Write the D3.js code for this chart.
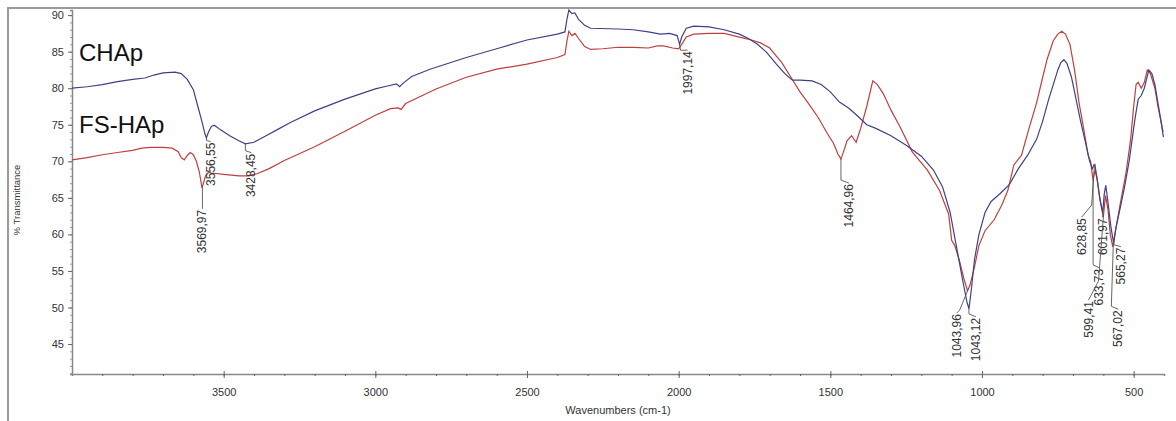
<!DOCTYPE html>
<html>
<head>
<meta charset="utf-8">
<script src="https://cdn.jsdelivr.net/npm/d3@7/dist/d3.min.js"></script>
<style>
  body { margin: 0; background: #fff; }
  text { font-family: "Liberation Sans", Arial, sans-serif; }
</style>
</head>
<body>
<div id="ftir"></div>
<script>

// FTIR spectra (wavenumber cm-1, % transmittance)

const chapWave = [4000,3950,3900,3850,3800,3760,3730,3700,3660,3640,3620,3600,3585,3572,3562,3557,3550,3540,3530,3510,3480,3450,3428,3400,3360,3320,3280,3200,3100,3000,2960,2930,2920,2905,2880,2820,2700,2600,2500,2400,2375,2368,2362,2352,2342,2330,2310,2290,2200,2150,2100,2060,2030,2005,1997,1990,1975,1950,1900,1850,1800,1770,1740,1710,1680,1650,1625,1600,1560,1530,1500,1470,1440,1410,1380,1350,1300,1250,1200,1160,1130,1105,1085,1065,1050,1043,1035,1025,1010,990,970,940,910,880,850,820,800,780,765,750,740,730,720,705,690,675,660,645,636,630,628,622,612,602,597,592,585,575,566,558,545,530,515,505,495,485,475,465,450,440,430,420,410,402];
const chapT = [80.0,80.2,80.5,80.9,81.2,81.4,81.8,82.1,82.2,82.0,81.2,79.8,77.5,75.5,73.8,73.2,74.0,74.8,74.9,74.3,73.5,72.8,72.4,72.6,73.5,74.4,75.3,76.9,78.5,79.9,80.3,80.6,80.2,80.8,81.6,82.6,84.2,85.4,86.6,87.4,87.7,89.5,90.7,90.2,90.3,89.4,88.6,88.2,88.1,88.0,87.7,87.4,87.5,87.2,86.0,87.0,88.2,88.5,88.4,88.0,87.4,86.8,86.0,84.9,83.4,82.0,81.1,81.1,81.0,80.5,79.5,78.1,77.3,76.2,75.0,74.5,73.5,72.2,70.7,68.8,66.5,63.0,58.5,54.0,50.8,49.8,52.5,56.5,60.0,63.0,64.5,65.6,66.8,69.0,70.8,73.0,75.5,78.5,80.5,82.5,83.5,83.9,83.4,81.5,78.5,75.5,72.8,70.0,69.0,69.6,69.6,68.0,65.0,63.0,65.5,66.7,64.5,61.0,58.8,61.0,63.5,66.5,70.0,73.0,76.0,78.5,79.0,80.0,82.5,82.0,80.5,78.0,75.5,73.3];

const fshapWave = [4000,3950,3900,3850,3800,3770,3740,3700,3670,3650,3640,3630,3620,3610,3600,3590,3580,3572,3568,3560,3550,3540,3500,3450,3420,3390,3350,3300,3200,3100,3000,2950,2925,2915,2900,2850,2800,2700,2600,2500,2400,2375,2368,2362,2352,2342,2330,2310,2290,2250,2200,2150,2100,2070,2050,2020,2000,1990,1975,1950,1900,1850,1800,1760,1730,1700,1680,1660,1630,1600,1570,1540,1510,1490,1475,1465,1455,1445,1430,1415,1400,1380,1360,1345,1326,1300,1270,1230,1180,1140,1110,1100,1090,1075,1060,1048,1040,1025,1010,990,960,935,915,895,880,870,845,820,800,785,765,750,737,725,710,695,680,665,650,642,634,628,620,610,600,593,585,577,569,560,545,525,510,500,492,485,475,465,455,445,430,420,410,403];
const fshapT = [70.2,70.5,70.9,71.2,71.5,71.8,71.9,71.9,71.8,71.3,70.5,70.2,70.8,71.2,70.9,70.0,68.5,66.5,66.8,68.0,68.5,68.4,68.2,68.0,68.0,68.3,69.0,70.1,72.0,74.1,76.3,77.2,77.3,77.1,77.9,78.9,79.9,81.5,82.6,83.3,84.2,84.6,86.5,87.8,87.2,87.5,86.8,85.7,85.3,85.4,85.6,85.6,85.5,85.8,85.8,85.5,85.4,86.0,87.0,87.4,87.5,87.5,87.0,86.6,86.2,85.5,84.5,83.5,81.5,79.5,77.8,76.0,73.8,72.5,71.0,70.3,71.5,72.8,73.5,72.6,74.5,77.5,81.0,80.5,79.3,77.0,74.7,71.3,68.8,66.0,62.8,59.2,58.5,56.5,54.0,52.3,53.0,55.5,58.5,60.5,62.0,64.0,66.0,69.5,70.3,70.8,74.5,78.0,81.5,84.0,86.5,87.4,87.8,87.4,86.0,82.5,78.0,74.5,70.8,70.0,67.4,68.8,67.5,64.5,62.4,65.3,63.5,60.0,58.3,60.5,64.0,68.5,73.0,77.5,80.5,80.8,80.0,80.8,82.5,82.0,80.0,77.5,75.5,74.0];

const xTicks = [3500, 3000, 2500, 2000, 1500, 1000, 500];
const yTicks = [45, 50, 55, 60, 65, 70, 75, 80, 85, 90];

// peak labels as printed by the instrument software, and the trace each belongs to
const peakLabels = ["3569,97","3556,55","3428,45","1997,14","1464,96","1043,96","1043,12","628,85","601,97","565,27","633,73","599,41","567,02"];
const peakSeries = ["fs","cha","cha","cha","fs","fs","cha","cha","cha","cha","fs","fs","fs"];

// leader layout in px, relative to the peak point: [knee dx, knee dy, text dx, text top dy]
const leaderLayout = [
  [0, 20, 0, 23], [0, 3, 4, 4], [0, 7, 6, 9], [1, 6, 8, 6],
  [0, 21, 8, 24], [-9, 22, -12, 25], [0, 5, 7, 8],
  [-3, 41, -13, 53], [0, 3, 0, 5], [0, 3, 7, 5],
  [0, 85, 6, 88], [-5, 66, -15, 85], [-2, 63, 5, 66]
];

const width = 1176, height = 421;
const margin = {top: 10, right: 12, bottom: 47, left: 72};

const svg = d3.select("#ftir")
  .append("svg")
  .attr("width", width)
  .attr("height", height);

// outer frame of the exported figure
svg.append("path")
  .attr("d", `M8,${height} V8 H${width}`)
  .attr("fill", "none")
  .attr("stroke", "#9a9a9a")
  .attr("stroke-width", 2);

const x = d3.scaleLinear()
  .domain([4000, 400])
  .range([margin.left, width - margin.right]);

const y = d3.scaleLinear()
  .domain([40.9, 90.7])
  .range([height - margin.bottom, margin.top]);

// x axis with minor ticks every 100
const xAxis = svg.append("g")
  .attr("transform", `translate(0,${height - margin.bottom})`);
xAxis.call(d3.axisBottom(x).tickValues(d3.range(500, 4000, 100)).tickSize(2).tickFormat(""));
xAxis.call(g => g.selectAll(".tick line").attr("stroke", "#666"));
xAxis.append("g").call(d3.axisBottom(x).tickValues(xTicks).tickSize(4).tickPadding(10).tickFormat(d3.format("d")))
  .call(g => g.select(".domain").remove())
  .call(g => g.selectAll(".tick line").attr("y1", -3).attr("stroke", "#666"))
  .call(g => g.selectAll(".tick text").attr("font-size", 11).attr("fill", "#333")
    .attr("font-family", "Liberation Sans, Arial, sans-serif"));
xAxis.select(".domain").attr("stroke", "#888").attr("stroke-width", 1.5);

// y axis with minor ticks every 1
const yAxis = svg.append("g")
  .attr("transform", `translate(${margin.left},0)`);
yAxis.call(d3.axisLeft(y).tickValues(d3.range(41, 91, 1)).tickSize(2).tickFormat(""));
yAxis.call(g => g.selectAll(".tick line").attr("stroke", "#999"));
yAxis.append("g").call(d3.axisLeft(y).tickValues(yTicks).tickSize(4).tickPadding(4))
  .call(g => g.select(".domain").remove())
  .call(g => g.selectAll(".tick line").attr("stroke", "#666"))
  .call(g => g.selectAll(".tick text").attr("font-size", 11).attr("fill", "#333")
    .attr("font-family", "Liberation Sans, Arial, sans-serif"));
yAxis.select(".domain").attr("stroke", "#888").attr("stroke-width", 1.5);

svg.append("text")
  .attr("x", 618).attr("y", 414)
  .attr("text-anchor", "middle")
  .attr("font-size", 11).attr("fill", "#333")
  .text("Wavenumbers (cm-1)");

svg.append("text")
  .attr("transform", "translate(20,200) rotate(-90)")
  .attr("text-anchor", "middle")
  .attr("font-size", 9.5).attr("fill", "#333")
  .text("% Transmittance");

// spectra
const cha = chapWave.map((w, i) => ({w: w, t: chapT[i]}));
const fs = fshapWave.map((w, i) => ({w: w, t: fshapT[i]}));
const traces = {cha: cha, fs: fs};

const line = d3.line()
  .x(d => x(d.w))
  .y(d => y(d.t));

svg.append("path")
  .datum(fs)
  .attr("d", line)
  .attr("fill", "none")
  .attr("stroke", "#bf3f3f")
  .attr("stroke-width", 1.2);

svg.append("path")
  .datum(cha)
  .attr("d", line)
  .attr("fill", "none")
  .attr("stroke", "#3e4282")
  .attr("stroke-width", 1.2);

// series names
svg.append("text").attr("x", 79).attr("y", 61)
  .attr("font-size", 24).attr("fill", "#111").text("CHAp");
svg.append("text").attr("x", 79).attr("y", 133)
  .attr("font-size", 24).attr("fill", "#111").text("FS-HAp");

// value of a trace at a wavenumber (arrays run high -> low)
function valueAt(data, w) {
  const i = d3.bisector(d => -d.w).left(data, -w);
  if (i <= 0) return data[0].t;
  if (i >= data.length) return data[data.length - 1].t;
  const a = data[i - 1], b = data[i];
  return a.t + (b.t - a.t) * (a.w - w) / (a.w - b.w);
}

// peak annotations
const peaks = svg.append("g");
peakLabels.forEach((lab, i) => {
  const w = +lab.replace(",", ".");
  const px = x(w), py = y(valueAt(traces[peakSeries[i]], w));
  const L = leaderLayout[i];
  peaks.append("path")
    .attr("d", `M${px},${py} L${px + L[0]},${py + L[1]} L${px + L[2]},${py + L[3]}`)
    .attr("fill", "none")
    .attr("stroke", "#555")
    .attr("stroke-width", 0.9);
  peaks.append("text")
    .attr("transform", `translate(${px + L[2] + 4},${py + L[3] + 1}) rotate(-90)`)
    .attr("text-anchor", "end")
    .attr("font-size", 12)
    .attr("fill", "#333")
    .text(lab);
});

</script>
</body>
</html>
